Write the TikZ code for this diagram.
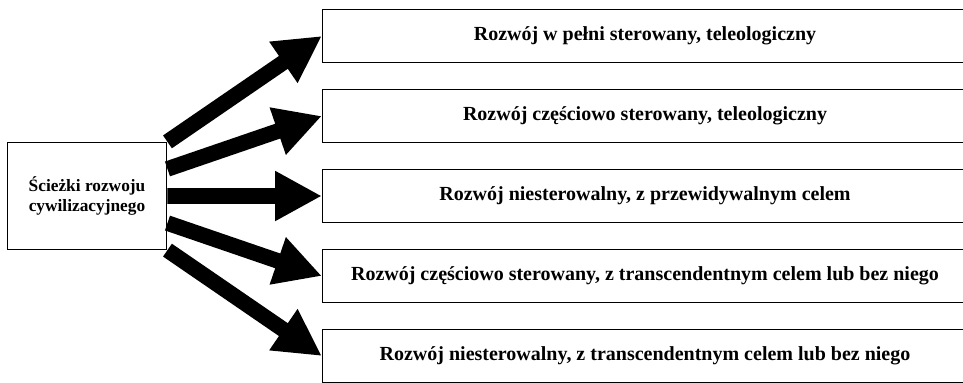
\documentclass[tikz,border=0pt]{standalone}
\usepackage{fontspec}
\setmainfont{Liberation Serif}
\usepackage{tikz}
\usetikzlibrary{arrows.meta, calc}

\tikzset{
  srcbox/.style={draw, rectangle, line width=1.2pt, minimum width=119.5pt, minimum height=80pt, align=center, font=\bfseries\fontsize{13}{15}\selectfont},
  pathbox/.style={draw, rectangle, line width=1.2pt, minimum width=483.5pt, minimum height=40pt, font=\bfseries\fontsize{15}{18}\selectfont},
  fatarrow/.style={line width=11.7pt, -{Triangle[length=35pt, width=35pt]}}
}

\begin{document}
\begin{tikzpicture}[x=0.75pt, y=-0.75pt]
  \useasboundingbox (0,0) rectangle (963,382);

  \node[srcbox] (src) at (87,196) {Ścieżki rozwoju\\cywilizacyjnego};

  \node[pathbox] (d1) at (645,36) {Rozwój w pełni sterowany, teleologiczny};
  \node[pathbox] (d2) at (645,116) {Rozwój częściowo sterowany, teleologiczny};
  \node[pathbox] (d3) at (645,196) {Rozwój niesterowalny, z przewidywalnym celem};
  \node[pathbox] (d4) at (645,276) {Rozwój częściowo sterowany, z transcendentnym celem lub bez niego};
  \node[pathbox] (d5) at (645,356) {Rozwój niesterowalny, z transcendentnym celem lub bez niego};

  % arrows fan out from the right side of the source box
  \foreach \i/\f in {1/0, 2/0.25, 3/0.5, 4/0.75, 5/1}
    \draw[fatarrow] ($(src.north east)!\f!(src.south east)$) -- (d\i.west);
\end{tikzpicture}
\end{document}
